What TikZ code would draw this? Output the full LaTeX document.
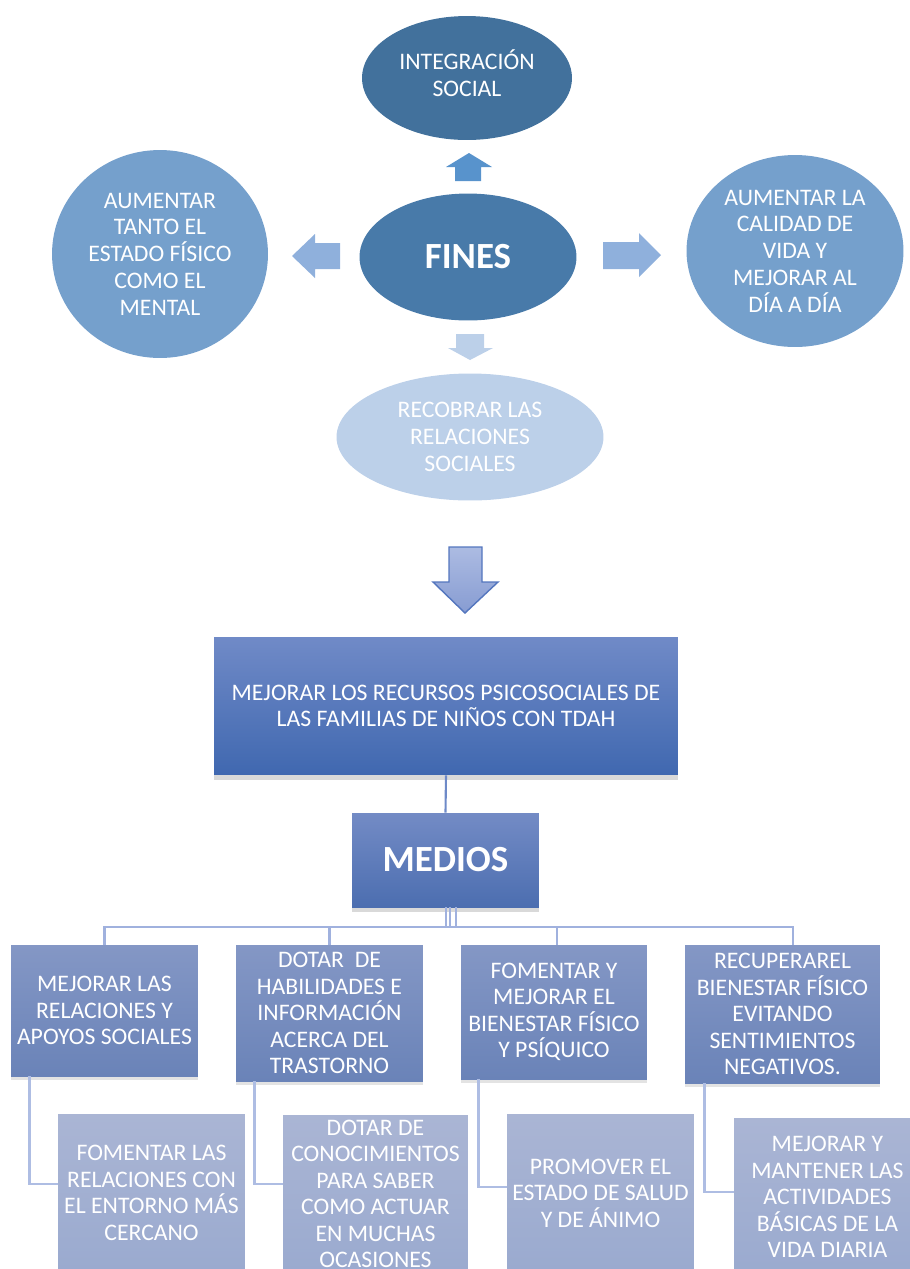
\documentclass[tikz,border=0pt]{standalone}
\usepackage{fontspec}
\setmainfont{Carlito}
\usepackage{tikz}
\usetikzlibrary{shapes.geometric,positioning,calc,shadows}

\definecolor{integcol}{RGB}{66,113,156}
\definecolor{finescol}{RGB}{72,122,169}
\definecolor{sidecol}{RGB}{117,160,204}
\definecolor{palecol}{RGB}{188,208,233}
\definecolor{uparrcol}{RGB}{88,147,204}
\definecolor{sidearrcol}{RGB}{143,176,220}
\definecolor{maintop}{RGB}{112,138,199}
\definecolor{mainbot}{RGB}{64,104,176}
\definecolor{medtop}{RGB}{115,139,197}
\definecolor{medbot}{RGB}{76,110,176}
\definecolor{lvltop}{RGB}{132,151,197}
\definecolor{lvlbot}{RGB}{106,131,184}
\definecolor{subtop}{RGB}{170,181,212}
\definecolor{subbot}{RGB}{154,170,207}
\definecolor{linecol}{RGB}{160,177,222}
\definecolor{trunkcol}{RGB}{110,138,200}
\definecolor{arrtop}{RGB}{172,187,226}
\definecolor{arrbot}{RGB}{135,156,210}
\definecolor{arredge}{RGB}{84,118,190}

\begin{document}
\begin{tikzpicture}[x=0.02cm, y=-0.02cm,
    goal/.style={ellipse, inner sep=0pt, align=center, text=white,
                 font=\fontsize{13.5}{15.2}\selectfont},
    box/.style={rectangle, inner sep=2pt, align=center, text=white,
                font=\fontsize{13.5}{15.1}\selectfont},
    lvl/.style={box, top color=lvltop, bottom color=lvlbot,
                minimum width=3.74cm, minimum height=2.66cm,
                drop shadow={opacity=0.22, shadow xshift=0pt, shadow yshift=-2.5pt}},
    sub/.style={box, top color=subtop, bottom color=subbot,
                minimum width=3.74cm, minimum height=3.16cm},
    branch/.style={draw=linecol, line width=1.3pt},
    elbow/.style={draw=linecol!85, line width=1.6pt},
    trunk/.style={draw=trunkcol, line width=1.2pt}
  ]

  \useasboundingbox (0,0) rectangle (910,1269);
  \clip (0,0) rectangle (910,1269);

  % Fines
  \node[goal, fill=integcol, minimum width=4.2cm, minimum height=2.48cm] (integ) at (467,78) {};
  \node[goal] (integtext) at (467,73.5) {INTEGRACIÓN\\SOCIAL};
  \node[goal, fill=finescol, minimum width=4.34cm, minimum height=2.54cm,
        font=\fontsize{21}{25}\selectfont\bfseries] (fines) at (468,257) {FINES};
  \node[goal, fill=sidecol, minimum width=4.32cm, minimum height=4.16cm] (fisico) at (160,254)
    {AUMENTAR\\TANTO EL\\ESTADO FÍSICO\\COMO EL\\MENTAL};
  \node[goal, fill=sidecol, minimum width=4.34cm, minimum height=3.84cm] (calidad) at (795,251)
    {AUMENTAR LA\\CALIDAD DE\\VIDA Y\\MEJORAR AL\\DÍA A DÍA};
  \node[goal, fill=palecol, minimum width=5.34cm, minimum height=2.54cm] (recobrar) at (470,437)
    {RECOBRAR LAS\\RELACIONES\\SOCIALES};

  % Block arrows round FINES
  \fill[uparrcol] (455,181) -- (455,167) -- (446,167) -- (469,153) -- (492,167) -- (481,167) -- (481,181) -- cycle;
  \fill[sidearrcol] (340,243) -- (315,243) -- (315,234) -- (292,256) -- (315,278) -- (315,269) -- (340,269) -- cycle;
  \fill[sidearrcol] (603,242) -- (639,242) -- (639,233) -- (661,255) -- (639,277) -- (639,269) -- (603,269) -- cycle;
  \fill[palecol] (456,334) -- (484,334) -- (484,348) -- (493,348) -- (470,360) -- (448,348) -- (456,348) -- cycle;

  % Big arrow to objective
  \draw[arredge, line width=0.8pt, top color=arrtop, bottom color=arrbot]
    (449,547) -- (482,547) -- (482,582) -- (498,582) -- (465,613) -- (433,582) -- (449,582) -- cycle;

  % Objective and medios
  \node[box, top color=maintop, bottom color=mainbot, minimum width=9.28cm, minimum height=2.76cm,
        drop shadow={opacity=0.3, shadow xshift=0pt, shadow yshift=-3pt}] (main) at (446,706)
    {MEJORAR LOS RECURSOS PSICOSOCIALES DE\\LAS FAMILIAS DE NIÑOS CON TDAH};
  \node[box, top color=medtop, bottom color=medbot, minimum width=3.74cm, minimum height=1.88cm,
        font=\fontsize{21}{25}\selectfont\bfseries,
        drop shadow={opacity=0.3, shadow xshift=0pt, shadow yshift=-3pt}] (medios) at (445.5,860) {MEDIOS};
  \draw[trunk] (main.south) -- (medios.north);

  % First level
  \node[lvl, minimum height=2.62cm] (nA) at (104.5,1010.5) {MEJORAR LAS\\RELACIONES Y\\APOYOS SOCIALES};
  \node[lvl, minimum height=2.72cm] (nB) at (329.5,1013) {DOTAR\ \ DE\\HABILIDADES E\\INFORMACIÓN\\ACERCA DEL\\TRASTORNO};
  \node[lvl, minimum width=3.72cm, minimum height=2.68cm] (nC) at (554,1012) {FOMENTAR Y\\MEJORAR EL\\BIENESTAR FÍSICO\\Y PSÍQUICO};
  \node[lvl, minimum width=3.9cm, minimum height=2.76cm] (nD) at (782.5,1014) {RECUPERAREL\\BIENESTAR FÍSICO\\EVITANDO\\SENTIMIENTOS\\NEGATIVOS.};

  \draw[branch] ($(medios.south)+(0.5,0)$) -- ++(0,20) -| (nA.north);
  \draw[branch] ($(medios.south)+(4.5,0)$) -- ++(0,20) -| (nB.north);
  \draw[branch] ($(medios.south)+(4.5,0)$) -- ++(0,20) -| ($(nC.north)+(3,0)$);
  \draw[branch] ($(medios.south)+(10.5,0)$) -- ++(0,20) -| ($(nD.north)+(10.5,0)$);

  % Second level
  \node[sub] (nE) at (151.5,1193) {FOMENTAR LAS\\RELACIONES CON\\EL ENTORNO MÁS\\CERCANO};
  \node[sub, minimum width=3.7cm, inner ysep=0pt] (nF) at (375.5,1194) {DOTAR DE\\CONOCIMIENTOS\\PARA SABER\\COMO ACTUAR\\EN MUCHAS\\OCASIONES};
  \node[sub] (nG) at (600.5,1193) {PROMOVER EL\\ESTADO DE SALUD\\Y DE ÁNIMO};
  \node[sub] (nH) at (827.5,1197) {MEJORAR Y\\MANTENER LAS\\ACTIVIDADES\\BÁSICAS DE LA\\VIDA DIARIA};

  \draw[elbow] ($(nA.south west)+(19,0)$) |- ($(nE.west)+(0,-9)$);
  \draw[elbow] ($(nB.south west)+(19,0)$) |- ($(nF.west)+(0,-10)$);
  \draw[elbow] ($(nC.south west)+(18,0)$) |- ($(nG.west)+(0,-6)$);
  \draw[elbow] ($(nD.south west)+(20,0)$) |- ($(nH.west)+(0,-5)$);

\end{tikzpicture}
\end{document}
